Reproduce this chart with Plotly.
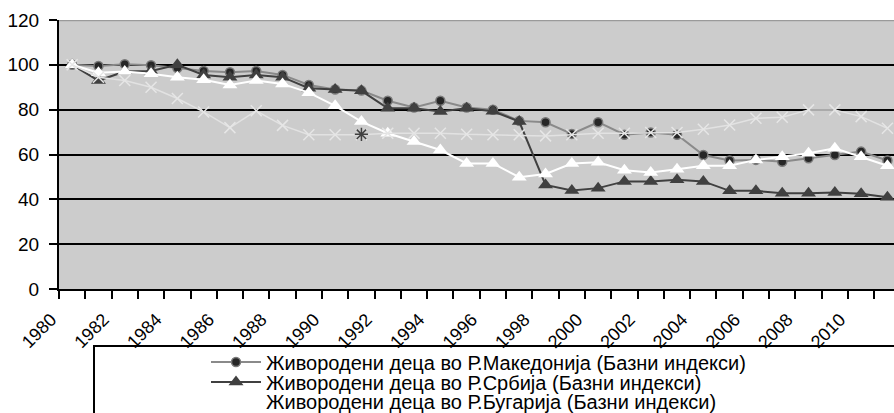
import plotly.graph_objects as go

years = list(range(1980, 2012))
label_years = list(range(1980, 2011, 2))

mac = [100, 99.5, 100.3, 99.8, 98.6, 97.3, 96.7, 97.3, 95.5, 91, 89, 88.5, 84, 81, 84, 81,
       80, 75, 74.4, 69.2, 74.4, 68.8, 69.8, 68.8, 59.8, 57.3, 57.6, 56.8, 58.3, 59.8, 61.3, 57.3]
serbia = [100, 93, 97, 97.3, 100, 95.5, 94.5, 95.5, 94.5, 89.6, 89, 88.4, 80.6, 80.6, 79.2, 80.6,
          79.3, 74.7, 46.4, 43.9, 45, 48, 48, 48.7, 48, 43.8, 43.8, 42.7, 42.7, 43, 42.5, 40.9]
bulgaria = [100, 96.5, 97, 96, 94.5, 93.3, 91, 93, 91.5, 87.6, 81.7, 74.7, 69.5, 65.8, 62, 56,
            56, 49.9, 51.3, 56, 56.5, 53, 52, 53.4, 55, 55, 57.6, 59, 60.6, 62.8, 59, 55]
fourth = [100, 94.5, 93, 90, 85, 79, 72, 79.5, 73, 68.8, 68.8, 68.8, 69.5, 69.5, 69.5, 69,
          68.8, 68.8, 68.3, 68.8, 69.5, 69.5, 69.8, 69.8, 71.3, 73.2, 76.2, 76.6, 79.9, 79.9, 76.9, 71.7]
star_year = [1991]
star_val = [69]

names = [
    "Живородени деца во Р.Македонија (Базни индекси)",
    "Живородени деца во Р.Србија (Базни индекси)",
    "Живородени деца во Р.Бугарија (Базни индекси)",
]

FONT = "Liberation Sans, Arial, sans-serif"

fig = go.Figure()
fig.add_trace(go.Scatter(x=years, y=mac, name=names[0], mode="lines+markers", legend="legend",
                         line=dict(color="#8a8a8a", width=2),
                         marker=dict(symbol="circle", size=9, color="#262626",
                                     line=dict(color="#7a7a7a", width=1.5)),
                         cliponaxis=False))
fig.add_trace(go.Scatter(x=years, y=serbia, name=names[1], mode="lines+markers", legend="legend2",
                         line=dict(color="#404040", width=2),
                         marker=dict(symbol="triangle-up", size=13, color="#404040"),
                         cliponaxis=False))
fig.add_trace(go.Scatter(x=years, y=bulgaria, name=names[2], mode="lines+markers", legend="legend3",
                         line=dict(color="#ffffff", width=2),
                         marker=dict(symbol="triangle-up", size=13, color="#ffffff"),
                         cliponaxis=False))
fig.add_trace(go.Scatter(x=years, y=fourth, mode="lines+markers", showlegend=False,
                         line=dict(color="#e2e2e2", width=1.5),
                         marker=dict(symbol="x-thin-open", size=11, color="#e6e6e6",
                                     line=dict(color="#e6e6e6", width=1.5)),
                         cliponaxis=False))
fig.add_trace(go.Scatter(x=star_year, y=star_val, mode="markers", showlegend=False,
                         marker=dict(symbol="asterisk-open", size=11, color="#404040",
                                     line=dict(color="#404040", width=1.5)),
                         cliponaxis=False))

W, H = 894, 413
PLOT_TOP, PLOT_BOTTOM = 20, 289
PH = PLOT_BOTTOM - PLOT_TOP


def legend_at(row_y):
    return dict(xref="container", yref="container", x=206 / W, y=1 - row_y / H,
                xanchor="left", yanchor="middle", bgcolor="rgba(0,0,0,0)",
                font=dict(family=FONT, size=20, color="black"), itemwidth=50)


fig.update_layout(
    width=W, height=H,
    margin=dict(l=59, r=0, t=PLOT_TOP, b=H - PLOT_BOTTOM, autoexpand=False),
    paper_bgcolor="white", plot_bgcolor="#cccccc",
    font=dict(family=FONT, size=19, color="black"),
    legend=legend_at(362), legend2=legend_at(382), legend3=legend_at(401),
    xaxis=dict(range=[1979.5, 2011.25], showgrid=False, zeroline=False,
               showline=True, linecolor="black", linewidth=2,
               tickmode="array", tickvals=label_years,
               ticktext=[str(y) for y in label_years], tickangle=-45, ticks="",
               ticklabelstandoff=11, ticklabelshift=-21,
               tickfont=dict(family=FONT, size=18),
               minor=dict(tickvals=[y - 0.5 for y in years] + [years[-1] + 0.5],
                          ticks="outside", ticklen=8, tickwidth=2, tickcolor="black",
                          showgrid=False)),
    yaxis=dict(range=[0, 120], dtick=20, showgrid=True, gridcolor="black", gridwidth=1.5,
               zeroline=False, showline=True, linecolor="black", linewidth=2,
               ticks="outside", ticklen=8, tickwidth=2, tickcolor="black",
               ticklabelstandoff=6, tickfont=dict(family=FONT, size=19)),
    shapes=[
        dict(type="line", xref="paper", yref="y", x0=0, x1=1, y0=120, y1=120,
             line=dict(color="#9a9a9a", width=2.5), layer="above"),
        dict(type="rect", xref="paper", yref="paper", x0=(94 - 59) / (W - 59), x1=1.2,
             y0=-(346 - PLOT_BOTTOM) / PH, y1=-1.0,
             line=dict(color="black", width=2), fillcolor="rgba(0,0,0,0)", layer="above"),
    ],
)

fig.write_html("out.html", config={"displayModeBar": False},
               post_script="document.body.style.margin='0';document.body.style.overflow='hidden';")
